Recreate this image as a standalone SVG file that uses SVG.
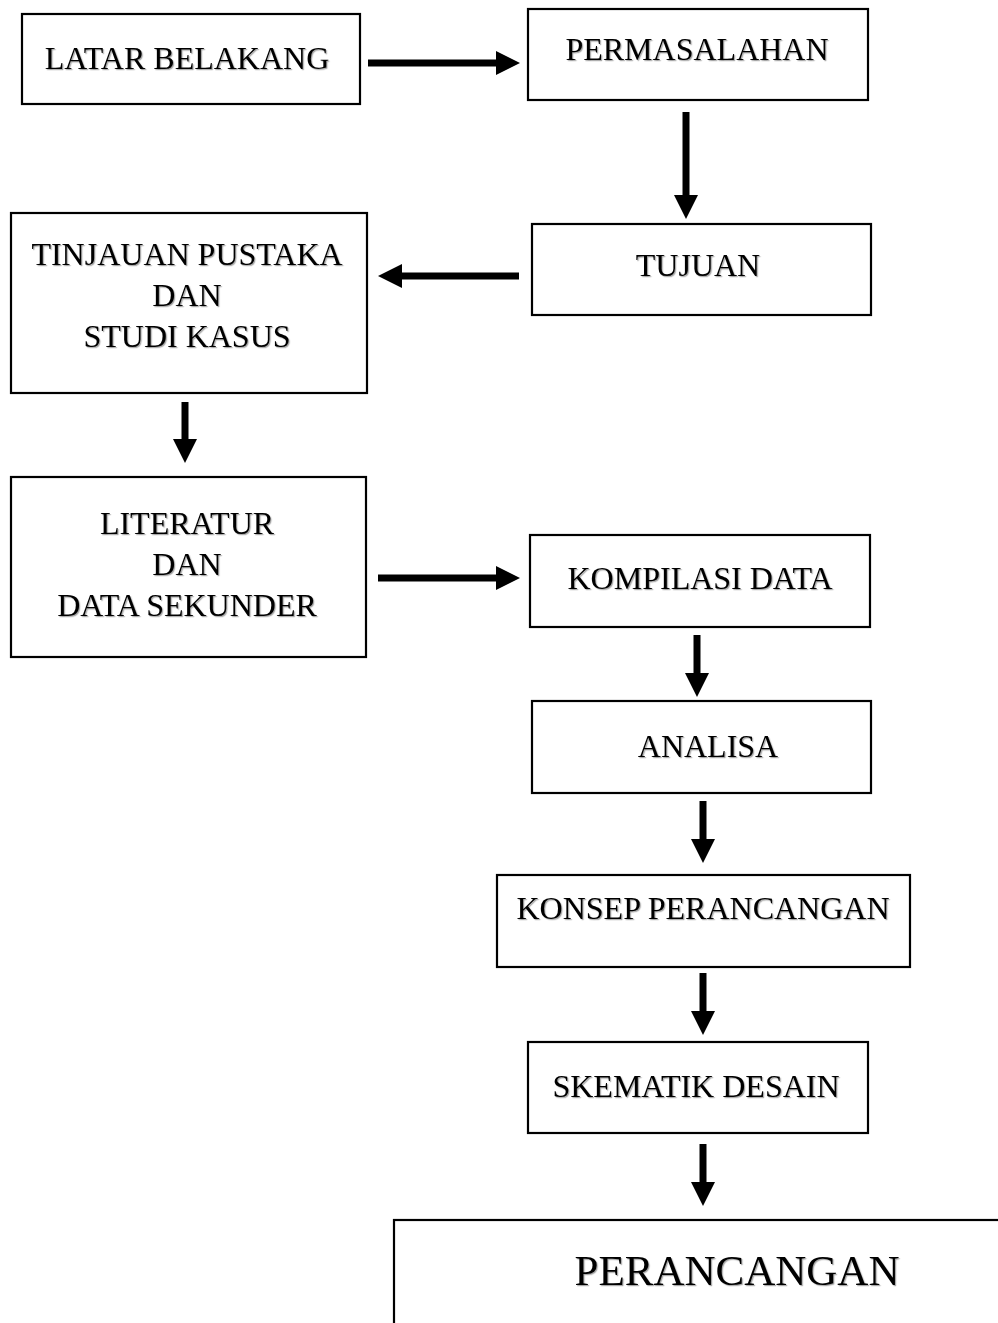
<svg xmlns="http://www.w3.org/2000/svg" width="998" height="1323" viewBox="0 0 998 1323">
<style>
.box{fill:#fff;stroke:#000;stroke-width:2.2}
.t{font-family:"Liberation Serif","Times New Roman",serif;font-size:32px;fill:#000;text-anchor:middle;filter:url(#sh)}
.big{font-size:43px}
.c{stroke:#000;stroke-width:7;fill:none;marker-end:url(#ah)}
</style>
<defs>
<filter id="sh" x="-5%" y="-20%" width="110%" height="140%">
<feDropShadow dx="1.2" dy="1.2" stdDeviation="0.6" flood-color="#000" flood-opacity="0.35"/>
</filter>
<marker id="ah" markerUnits="userSpaceOnUse" markerWidth="26" markerHeight="26" refX="2" refY="13" orient="auto" viewBox="0 0 26 26">
<path d="M0,1 L24,13 L0,25 Z" fill="#000"/>
</marker>
</defs>
<g id="connectors">
<line class="c" x1="368" y1="63" x2="498" y2="63"/>
<line class="c" x1="686" y1="112" x2="686" y2="197"/>
<line class="c" x1="519" y1="276" x2="400" y2="276"/>
<line class="c" x1="185" y1="402" x2="185" y2="441"/>
<line class="c" x1="378" y1="578" x2="498" y2="578"/>
<line class="c" x1="697" y1="635" x2="697" y2="675"/>
<line class="c" x1="703" y1="801" x2="703" y2="841"/>
<line class="c" x1="703" y1="973" x2="703" y2="1013"/>
<line class="c" x1="703" y1="1144" x2="703" y2="1184"/>
</g>
<g id="latar"><rect class="box" x="22" y="14" width="338" height="90"/><text class="t" x="187" y="69">LATAR BELAKANG</text></g>
<g id="permasalahan"><rect class="box" x="528" y="9" width="340" height="91"/><text class="t" x="697" y="60">PERMASALAHAN</text></g>
<g id="tujuan"><rect class="box" x="532" y="224" width="339" height="91"/><text class="t" x="698" y="276">TUJUAN</text></g>
<g id="tinjauan"><rect class="box" x="11" y="213" width="356" height="180"/><text class="t" x="187" y="265">TINJAUAN PUSTAKA</text><text class="t" x="187" y="306">DAN</text><text class="t" x="187" y="347">STUDI KASUS</text></g>
<g id="literatur"><rect class="box" x="11" y="477" width="355" height="180"/><text class="t" x="187" y="534">LITERATUR</text><text class="t" x="187" y="575">DAN</text><text class="t" x="187" y="616">DATA SEKUNDER</text></g>
<g id="kompilasi"><rect class="box" x="530" y="535" width="340" height="92"/><text class="t" x="700" y="589">KOMPILASI DATA</text></g>
<g id="analisa"><rect class="box" x="532" y="701" width="339" height="92"/><text class="t" x="708" y="757">ANALISA</text></g>
<g id="konsep"><rect class="box" x="497" y="875" width="413" height="92"/><text class="t" x="703" y="919">KONSEP PERANCANGAN</text></g>
<g id="skematik"><rect class="box" x="528" y="1042" width="340" height="91"/><text class="t" x="696" y="1097">SKEMATIK DESAIN</text></g>
<g id="perancangan"><rect class="box" x="394" y="1220" width="620" height="120"/><text class="t big" x="737" y="1285">PERANCANGAN</text></g>
</svg>
